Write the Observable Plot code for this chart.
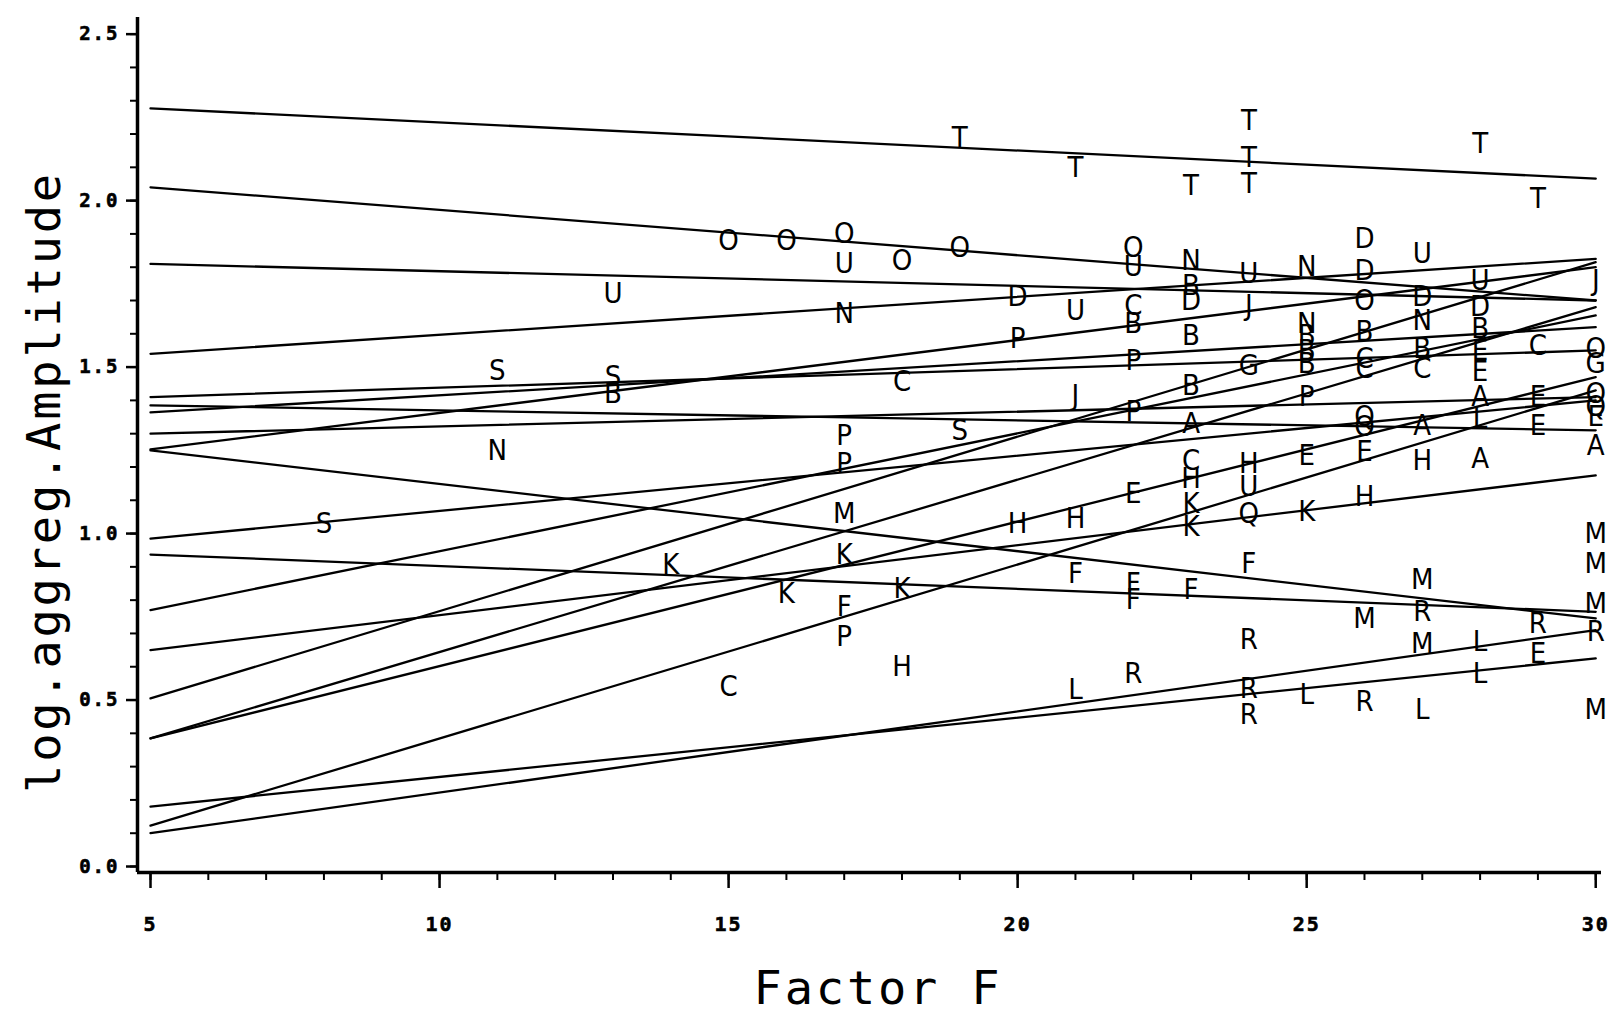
<!DOCTYPE html>
<html><head><meta charset="utf-8">
<script src="https://cdn.jsdelivr.net/npm/d3@7"></script>
<script src="https://cdn.jsdelivr.net/npm/@observablehq/plot@0.6"></script>
<style>
html,body{margin:0;padding:0;background:#fff;}
#wrap{position:relative;width:1617px;height:1016px;overflow:hidden;background:#fff;}
.title{position:absolute;white-space:nowrap;font-family:'DejaVu Sans Mono',monospace;font-size:47px;letter-spacing:2.8px;color:#000;line-height:34px;}
#ytitle{left:44px;top:482px;transform:translate(-50%,-50%) rotate(-90deg);}
#xtitle{left:878px;top:988px;transform:translate(-50%,-50%);}
</style></head><body><div id="wrap"><div id="chart"></div><div class="title" id="ytitle"></div><div class="title" id="xtitle"></div></div>
<script>
// Regression lines: value at Factor F = 5 and at Factor F = 30
const lineY5  = [2.277, 2.04, 1.81, 1.54, 1.41, 1.385, 1.364, 1.30, 1.253, 1.25, 0.985, 0.937, 0.77, 0.65, 0.505, 0.385, 0.385, 0.18, 0.123, 0.10];
const lineY30 = [2.066, 1.70, 1.70, 1.825, 1.55, 1.31, 1.62, 1.41, 1.80, 0.745, 1.40, 0.765, 1.655, 1.175, 1.815, 1.68, 1.47, 0.625, 1.43, 0.71];

// Observations (letter codes)
const pointLetter = [
 "S",
 "S","N",
 "U","S","B",
 "K",
 "O","C",
 "O","K",
 "O","U","N","P","P","M","K","F","P",
 "O","C","K","H",
 "T","O","S",
 "D","P","H",
 "T","U","J","H","F","L",
 "O","U","C","B","P","P","E","F","F","R",
 "T","N","B","D","B","B","A","C","H","K","K","F",
 "T","T","T","U","J","G","H","U","Q","F","R","R","R",
 "N","N","B","B","B","P","E","K","L",
 "D","D","O","B","C","C","Q","O","E","H","M","R",
 "U","D","N","B","C","A","H","M","R","M","L",
 "T","U","D","B","E","E","A","L","A","L","L",
 "T","C","E","E","R","E",
 "J","O","G","O","Q","E","A","M","M","M","R","M"
];
const pointX = [
 8,
 11,11,
 13,13,13,
 14,
 15,15,
 16,16,
 17,17,17,17,17,17,17,17,17,
 18,18,18,18,
 19,19,19,
 20,20,20,
 21,21,21,21,21,21,
 22,22,22,22,22,22,22,22,22,22,
 23,23,23,23,23,23,23,23,23,23,23,23,
 24,24,24,24,24,24,24,24,24,24,24,24,24,
 25,25,25,25,25,25,25,25,25,
 26,26,26,26,26,26,26,26,26,26,26,26,
 27,27,27,27,27,27,27,27,27,27,27,
 28,28,28,28,28,28,28,28,28,28,28,
 29,29,29,29,29,29,
 30,30,30,30,30,30,30,30,30,30,30,30
];
const pointY = [
 1.03,
 1.49,1.25,
 1.72,1.47,1.42,
 0.905,
 1.88,0.54,
 1.88,0.82,
 1.90,1.81,1.66,1.295,1.21,1.06,0.935,0.78,0.69,
 1.82,1.455,0.835,0.60,
 2.19,1.86,1.31,
 1.71,1.585,1.03,
 2.10,1.67,1.415,1.045,0.88,0.53,
 1.86,1.80,1.685,1.63,1.52,1.365,1.12,0.85,0.80,0.58,
 2.045,1.82,1.745,1.70,1.595,1.445,1.33,1.22,1.165,1.09,1.02,0.83,
 2.24,2.13,2.05,1.78,1.685,1.505,1.21,1.14,1.06,0.91,0.68,0.535,0.455,
 1.80,1.63,1.595,1.55,1.51,1.41,1.235,1.065,0.515,
 1.885,1.79,1.70,1.605,1.525,1.495,1.35,1.32,1.245,1.11,0.745,0.495,
 1.84,1.71,1.64,1.555,1.495,1.325,1.22,0.86,0.765,0.67,0.47,
 2.17,1.76,1.68,1.615,1.55,1.485,1.41,1.345,1.225,0.675,0.58,
 2.005,1.565,1.41,1.325,0.73,0.64,
 1.76,1.555,1.51,1.42,1.38,1.35,1.265,1.00,0.91,0.79,0.705,0.47
];

const xMajor = [5, 10, 15, 20, 25, 30];
const xMinor = d3.range(5, 31, 1);
const yMajor = [0, 0.5, 1.0, 1.5, 2.0, 2.5];
const yMinor = d3.range(0, 26).map(d => d / 10);
const xTitle = "Factor F";
const yTitle = "log.aggreg.Amplitude";

const xDomain = [4.775, 30.1];
const yDomain = [-0.018, 2.55];

const lines = lineY5.flatMap((v, i) => [
  {id: i, f: 5, amp: v},
  {id: i, f: 30, amp: lineY30[i]}
]);
const points = pointLetter.map((l, i) => ({letter: l, f: pointX[i], amp: pointY[i]}));

const monoBold = "'DejaVu Sans Mono', 'Liberation Mono', monospace";
const letterFont = "'Liberation Sans Narrow', 'DejaVu Sans Condensed', 'Liberation Sans', sans-serif";

const chart = Plot.plot({
  width: 1617,
  height: 1016,
  marginLeft: 137,
  marginRight: 16,
  marginTop: 17,
  marginBottom: 144,
  style: {background: "#fff", color: "#000"},
  x: {domain: xDomain},
  y: {domain: yDomain},
  marks: [
    Plot.axisX(xMinor, {anchor: "bottom", tickSize: 8, tickFormat: () => "", label: null, strokeWidth: 2}),
    Plot.axisX(xMajor, {anchor: "bottom", tickSize: 16, tickPadding: 28, tickFormat: d3.format("d"), label: null,
      fontSize: 20, fontWeight: "bold", fontFamily: monoBold, strokeWidth: 2.5}),
    Plot.axisY(yMinor, {anchor: "left", tickSize: 7, tickFormat: () => "", label: null, strokeWidth: 2}),
    Plot.axisY(yMajor, {anchor: "left", tickSize: 11, tickPadding: 7, tickFormat: d3.format(".1f"), label: null,
      fontSize: 19, fontWeight: "bold", fontFamily: monoBold, strokeWidth: 2.5}),
    Plot.ruleX([xDomain[0]], {stroke: "#000", strokeWidth: 3.5}),
    Plot.ruleY([yDomain[0]], {stroke: "#000", strokeWidth: 3.5}),
    Plot.line(lines, {x: "f", y: "amp", z: "id", stroke: "#000", strokeWidth: 2.3}),
    Plot.text(points, {x: "f", y: "amp", text: "letter", fill: "#000", fontSize: 29, fontFamily: letterFont})
  ]
});
document.getElementById("chart").appendChild(chart);
document.getElementById("xtitle").textContent = xTitle;
document.getElementById("ytitle").textContent = yTitle;
d3.select(chart).selectAll("text").filter(function() {
  return /^\d/.test(this.textContent) && this.textContent.length <= 3;
}).style("letter-spacing", "2px").style("stroke", "#000").style("stroke-width", "0.6px");
</script>
</body></html>
